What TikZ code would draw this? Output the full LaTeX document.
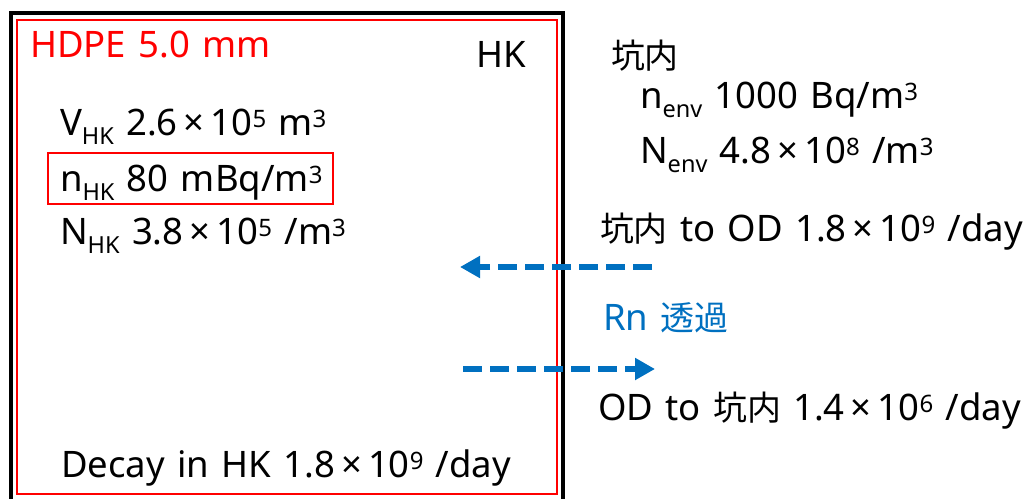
\documentclass[tikz,border=0pt]{standalone}
\usepackage{fontspec}
\setmainfont[WordSpace=1.3]{Noto Sans}
\newfontfamily\jp[Scale=0.93]{Noto Sans CJK JP}
\usetikzlibrary{arrows.meta}
\definecolor{rnblue}{RGB}{0,112,192}
\newcommand\lowtxt[1]{\raisebox{-9pt}{\fontsize{23.5}{23.5}\selectfont #1}}
\newcommand\uptxt[1]{\raisebox{8pt}{\fontsize{24}{24}\selectfont #1}}
\newcommand\tms{\,×\,}
\tikzset{
  txt/.style={anchor=base west, inner sep=0pt, outer sep=0pt, font=\fontsize{36.5}{36.5}\selectfont},
  flow/.style={rnblue, line width=6pt, dash pattern=on 19pt off 8pt, -{Triangle[length=20pt,width=21pt]}}
}
\begin{document}
\begin{tikzpicture}[x=1pt,y=-1pt]
\useasboundingbox (0,0) rectangle (1027,498);
% outer boxes
\draw[black, line width=4pt] (11,500) -- (11,13) -- (563,13) -- (563,500);
\draw[red, line width=1.6pt] (17,20) rectangle (557,494);
% HK side
\node[txt, red] (hdpe) at (30,57) {HDPE 5.0 mm};
\node[txt] (hk) at (476,67) {HK};
\node[txt] (vhk) at (60,135) {V\lowtxt{HK} 2.6\tms10\uptxt{5} m\uptxt{3}};
\node[txt] (nhk) at (60,191) {n\lowtxt{HK} 80 mBq/m\uptxt{3}};
\draw[red, line width=1.6pt] (48,153) rectangle (333,204);
\node[txt] (Nhk) at (60,244) {N\lowtxt{HK} 3.8\tms10\uptxt{5} /m\uptxt{3}};
\node[txt] (decay) at (61,477) {Decay in HK 1.8\tms10\uptxt{9} /day};
% environment side
\node[txt] (kounai) at (611,68) {\jp 坑内};
\node[txt] (nenv) at (640,108) {n\lowtxt{env} 1000 Bq/m\uptxt{3}};
\node[txt] (Nenv) at (640,163) {N\lowtxt{env} 4.8\tms10\uptxt{8} /m\uptxt{3}};
\node[txt] (toOD) at (600,241) {{\jp 坑内} to OD 1.8\tms10\uptxt{9} /day};
\node[txt, rnblue] (rn) at (603,330) {Rn {\jp 透過}};
\node[txt] (fromOD) at (598,420) {OD to {\jp 坑内} 1.4\tms10\uptxt{6} /day};
% arrows
\coordinate (inS) at (652,267);
\coordinate (inE) at (460,267);
\coordinate (outS) at (463,369);
\coordinate (outE) at (655,369);
\draw[flow] (inS) -- (inE);
\draw[flow] (outS) -- (outE);
\end{tikzpicture}
\end{document}
